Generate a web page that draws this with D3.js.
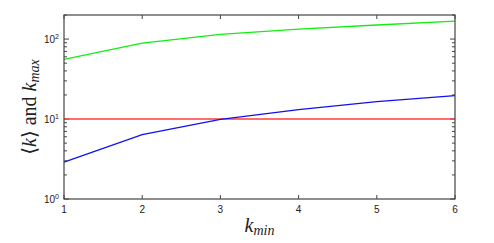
<!DOCTYPE html>
<html>
<head>
<meta charset="utf-8">
<script src="https://cdn.jsdelivr.net/npm/d3@7"></script>
<style>
  body { margin: 0; background: #fff; }
  svg text { font-family: "Liberation Sans", Arial, sans-serif; }
  .serif { font-family: "Liberation Serif", "DejaVu Serif", serif; }
</style>
</head>
<body>
<svg id="chart" width="494" height="243"></svg>
<script>
// data
const kmin = [1, 2, 3, 4, 5, 6];
const kMax = [55.7, 89, 114.5, 133, 150, 168];
const kMean = [2.9, 6.4, 9.9, 13.1, 16.5, 19.6];
const kCut = [10, 10, 10, 10, 10, 10];
const yTicks = [1, 10, 100];

const margin = {left: 64, right: 39, top: 15, bottom: 44};
const W = 494, H = 243;

const svg = d3.select('#chart');

const x = d3.scaleLinear().domain([1, 6]).range([margin.left, W - margin.right]);
const y = d3.scaleLog().domain([1, 200]).range([H - margin.bottom, margin.top]);

const minor = [];
for (let d = 1; d <= 100; d *= 10)
  for (let m = 2; m <= 9; m++) if (d * m <= 200) minor.push(d * m);

const boxColor = '#444';

// inward ticks, all four sides
const g = svg.append('g');
const x0 = x.range()[0], x1 = x.range()[1], y0 = y.range()[0], y1 = y.range()[1];

g.selectAll('line.xt').data(kmin).enter().append('line')
    .attr('x1', d => x(d)).attr('x2', d => x(d)).attr('y1', y0).attr('y2', y0 - 4)
    .attr('stroke', boxColor);
g.selectAll('line.xtt').data(kmin).enter().append('line')
    .attr('x1', d => x(d)).attr('x2', d => x(d)).attr('y1', y1).attr('y2', y1 + 4)
    .attr('stroke', boxColor);

[x0, x1].forEach((px, i) => {
  const dir = i === 0 ? 1 : -1;
  g.selectAll(null).data(yTicks).enter().append('line')
      .attr('x1', px).attr('x2', px + dir * 5).attr('y1', d => y(d)).attr('y2', d => y(d))
      .attr('stroke', boxColor);
  g.selectAll(null).data(minor).enter().append('line')
      .attr('x1', px).attr('x2', px + dir * 3).attr('y1', d => y(d)).attr('y2', d => y(d))
      .attr('stroke', boxColor);
});

// series
const line = vals => d3.line().x((d, i) => x(kmin[i])).y(d => y(d))(vals);
svg.append('path').attr('d', line(kCut)).attr('fill', 'none').attr('stroke', '#ff3c3c').attr('stroke-width', 1.6);
svg.append('path').attr('d', line(kMax)).attr('fill', 'none').attr('stroke', '#11ee11').attr('stroke-width', 1.3);
svg.append('path').attr('d', line(kMean)).attr('fill', 'none').attr('stroke', '#1111ee').attr('stroke-width', 1.3);

// box
svg.append('rect').attr('x', x0).attr('y', y1).attr('width', x1 - x0).attr('height', y0 - y1)
    .attr('fill', 'none').attr('stroke', boxColor).attr('stroke-width', 1.2);

// tick labels
svg.selectAll('text.xl').data(kmin).enter().append('text')
    .attr('x', d => x(d)).attr('y', y0 + 14).attr('text-anchor', 'middle')
    .attr('font-size', 10).attr('fill', '#222').text(d => d);

const yl = svg.selectAll('text.yl').data(yTicks).enter().append('text')
    .attr('x', x0 - 5).attr('y', d => y(d) + 4).attr('text-anchor', 'end')
    .attr('font-size', 10).attr('fill', '#222');
yl.append('tspan').text('10');
yl.append('tspan').attr('dy', -4).attr('font-size', 7).text(d => Math.round(Math.log10(d)));

// axis titles
const xt = svg.append('text').attr('class', 'serif').attr('x', (x0 + x1) / 2).attr('y', 232)
    .attr('text-anchor', 'middle').attr('font-size', 20).attr('fill', '#222');
xt.append('tspan').attr('font-style', 'italic').text('k');
xt.append('tspan').attr('font-style', 'italic').attr('font-size', 14).attr('dy', 3).text('min');

const ytl = svg.append('text').attr('class', 'serif')
    .attr('transform', 'translate(36,' + ((y0 + y1) / 2) + ') rotate(-90)')
    .attr('text-anchor', 'middle').attr('font-size', 20).attr('fill', '#222');
ytl.append('tspan').text('\u27E8');
ytl.append('tspan').attr('font-style', 'italic').text('k');
ytl.append('tspan').text('\u27E9 and ');
ytl.append('tspan').attr('font-style', 'italic').text('k');
ytl.append('tspan').attr('font-style', 'italic').attr('font-size', 14).attr('dy', 3).text('max');
</script>
</body>
</html>
